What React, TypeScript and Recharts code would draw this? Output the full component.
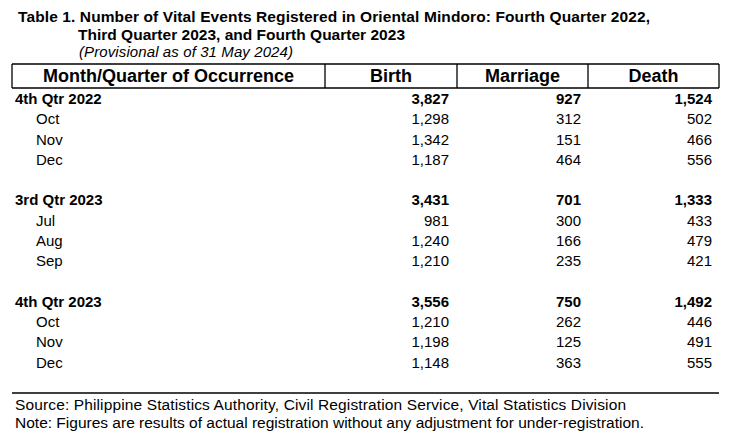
import React from "react";
import { ScatterChart, Scatter, XAxis, YAxis, ReferenceLine, Customized } from "recharts";

// table body
const PERIODS = ["4th Qtr 2022", "Oct", "Nov", "Dec", "3rd Qtr 2023", "Jul", "Aug", "Sep", "4th Qtr 2023", "Oct", "Nov", "Dec"];
const BIRTH = [3827, 1298, 1342, 1187, 3431, 981, 1240, 1210, 3556, 1210, 1198, 1148];
const MARRIAGE = [927, 312, 151, 464, 701, 300, 166, 235, 750, 262, 125, 363];
const DEATH = [1524, 502, 466, 556, 1333, 433, 479, 421, 1492, 446, 491, 555];
const HEADERS = ["Month/Quarter of Occurrence", "Birth", "Marriage", "Death"];

const TITLE_1 = "Table 1. Number of Vital Events Registered in Oriental Mindoro: Fourth Quarter 2022,";
const TITLE_2 = "Third Quarter 2023, and Fourth Quarter 2023";
const SUBTITLE = "(Provisional as of 31 May 2024)";
const SOURCE = "Source: Philippine Statistics Authority, Civil Registration Service, Vital Statistics Division";
const NOTE = "Note: Figures are results of actual registration without any adjustment for under-registration.";

const FONT = '"Liberation Sans", Arial, sans-serif';
const W = 734;
const H = 439;

// layout (x in px, y in row units)
const ROW_PX = 20.27;
const FIRST_ROW_PX = 98.5;
const Y0 = -FIRST_ROW_PX / ROW_PX;
const Y1 = Y0 + H / ROW_PX;
const toRow = (px: number) => (px - FIRST_ROW_PX) / ROW_PX;

const BORDERS = [12, 325, 457, 588, 719];
const HEAD_X = [168.5, 391, 522.5, 653.5];
const NUM_X = [449, 581, 712];
const HEAD_TOP = toRow(64);
const HEAD_BOTTOM = toRow(88);
const HEAD_MID = toRow(75.5);
const TABLE_BOTTOM = toRow(393);

const rowOf = (i: number) => i + Math.floor(i / 4);
const isQuarter = (i: number) => i % 4 === 0;

const labelCells = PERIODS.map((p, i) => ({
  x: isQuarter(i) ? 15 : 36, row: rowOf(i), text: p, bold: isQuarter(i), anchor: "start",
}));
const numCells = [BIRTH, MARRIAGE, DEATH].flatMap((vals, c) =>
  vals.map((v, i) => ({
    x: NUM_X[c], row: rowOf(i), text: v.toLocaleString("en-US"), bold: isQuarter(i), anchor: "end",
  }))
);
const headCells = HEADERS.map((h, i) => ({
  x: HEAD_X[i], row: HEAD_MID, text: h, bold: true, anchor: "middle", size: 18,
}));

const CellText = (props: any) => {
  const { cx, cy, payload } = props;
  return (
    <text
      x={cx}
      y={cy}
      textAnchor={payload.anchor}
      dominantBaseline="central"
      fontFamily={FONT}
      fontSize={payload.size ?? 15}
      fontWeight={payload.bold ? 700 : 400}
      fill="#000"
    >
      {payload.text}
    </text>
  );
};

const Notes = () => (
  <g fontFamily={FONT} fill="#000">
    <text x={18} y={16} dominantBaseline="central" fontSize={15.5} fontWeight={700} textLength={632} lengthAdjust="spacing">{TITLE_1}</text>
    <text x={78} y={34} dominantBaseline="central" fontSize={15.5} fontWeight={700} textLength={327} lengthAdjust="spacing">{TITLE_2}</text>
    <text x={79} y={51} dominantBaseline="central" fontSize={15} fontStyle="italic" textLength={214} lengthAdjust="spacing">{SUBTITLE}</text>
    <text x={15} y={404.5} dominantBaseline="central" fontSize={15.5} textLength={611} lengthAdjust="spacing">{SOURCE}</text>
    <text x={15} y={422.5} dominantBaseline="central" fontSize={15.5} textLength={629} lengthAdjust="spacing">{NOTE}</text>
  </g>
);

export default function App() {
  return (
    <div style={{ width: W, height: H, margin: -8, background: "#fff" }}>
      <ScatterChart width={W} height={H} margin={{ top: 0, right: 0, bottom: 0, left: 0 }}>
        <XAxis type="number" dataKey="x" domain={[0, W]} hide />
        <YAxis type="number" dataKey="row" domain={[Y0, Y1]} reversed hide />
        <ReferenceLine segment={[{ x: BORDERS[0], y: HEAD_TOP }, { x: BORDERS[4], y: HEAD_TOP }]} stroke="#000" strokeWidth={1.3} />
        <ReferenceLine segment={[{ x: BORDERS[0], y: HEAD_BOTTOM }, { x: BORDERS[4], y: HEAD_BOTTOM }]} stroke="#000" strokeWidth={1.3} />
        {BORDERS.map((bx) => (
          <ReferenceLine key={bx} segment={[{ x: bx, y: HEAD_TOP }, { x: bx, y: HEAD_BOTTOM }]} stroke="#000" strokeWidth={1.3} />
        ))}
        <ReferenceLine segment={[{ x: BORDERS[0], y: TABLE_BOTTOM }, { x: BORDERS[4], y: TABLE_BOTTOM }]} stroke="#000" strokeWidth={1.3} />
        <Scatter data={headCells} shape={<CellText />} isAnimationActive={false} />
        <Scatter data={labelCells} shape={<CellText />} isAnimationActive={false} />
        <Scatter data={numCells} shape={<CellText />} isAnimationActive={false} />
        <Customized component={<Notes />} />
      </ScatterChart>
    </div>
  );
}
